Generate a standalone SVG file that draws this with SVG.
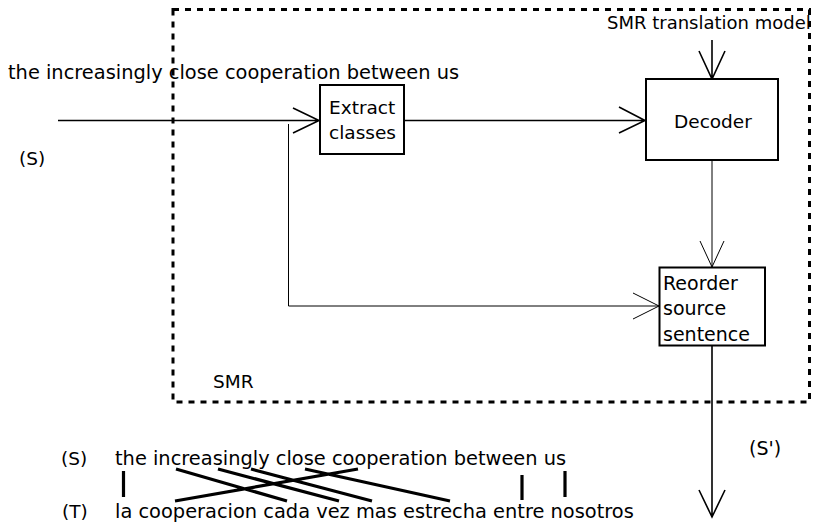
<svg xmlns="http://www.w3.org/2000/svg" width="828" height="522" viewBox="0 0 828 522">
<style>
text{font-family:"DejaVu Sans","Liberation Sans",sans-serif;font-size:18.5px;fill:#000}
.big{font-size:19.4px}
.box{fill:#fff;stroke:#000;stroke-width:2}
.ln{fill:none;stroke:#000;stroke-width:1.6}
.thin{fill:none;stroke:#000;stroke-width:1}
.al{stroke:#000;stroke-width:3.2;fill:none}
</style>
<g id="smr-region">
<rect x="173" y="9.5" width="636.5" height="392.5" fill="none" stroke="#000" stroke-width="3" stroke-dasharray="6,6"/>
<text x="213" y="388">SMR</text>
</g>
<g id="connectors">
<path class="ln" d="M58,120.5H319M293,108L319,120.5L293,133"/>
<path class="ln" d="M404,120.5H645M619,107L645,120.5L619,133"/>
<path class="ln" d="M712,40V79M699,51L712,79L725,51"/>
<path class="thin" d="M712,160V267M700,241L712,267L724,241"/>
<path class="thin" d="M288.5,124V306H659M633,293L659,306L633,319"/>
<path class="ln" d="M712,345V517M699,490L712,517L725,490"/>
</g>
<g id="extract">
<rect class="box" x="320" y="85" width="84" height="69"/>
<text x="329" y="114">Extract</text>
<text x="329" y="139">classes</text>
</g>
<g id="decoder">
<rect class="box" x="646" y="79" width="132" height="81"/>
<text x="674" y="127.5">Decoder</text>
</g>
<g id="reorder">
<rect class="box" x="659.5" y="267.5" width="105.5" height="78"/>
<text x="663" y="290" style="font-size:19px">Reorder</text>
<text x="663" y="315" style="font-size:19px">source</text>
<text x="663" y="341" style="font-size:19px">sentence</text>
</g>
<g id="labels">
<text class="big" x="8" y="79">the increasingly close cooperation between us</text>
<text x="19" y="165">(S)</text>
<text x="607" y="29" style="font-size:18px">SMR translation model</text>
<text x="749" y="455" style="font-size:19px">(S')</text>
</g>
<g id="alignment">
<text x="61" y="465">(S)</text>
<text class="big" x="115" y="465">the increasingly close cooperation between us</text>
<text x="62" y="518">(T)</text>
<text class="big" x="115" y="518">la cooperacion cada vez mas estrecha entre nosotros</text>
<path class="al" d="M123.5,471V497M176,469L287,501M218,469L339,501M251,469L372,501M305,469L450,501M358,469L175,501M522,475V500M565,471V497"/>
</g>
</svg>
